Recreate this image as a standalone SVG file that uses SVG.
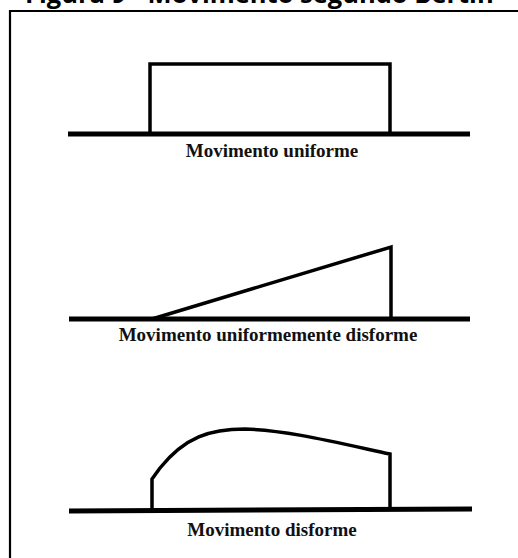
<svg xmlns="http://www.w3.org/2000/svg" width="518" height="558" viewBox="0 0 518 558">
<style>
.base{stroke:#000;stroke-width:5;fill:none;stroke-linecap:butt}
.shape{stroke:#000;stroke-width:3.5;fill:none;stroke-linejoin:miter}
.lbl{font-family:"Liberation Serif","Times New Roman",serif;font-weight:bold;font-size:19px;fill:#111;text-anchor:middle}
.title{font-family:"Open Sans","Liberation Sans",sans-serif;font-weight:bold;font-size:25.5px;fill:#000}
</style>
<rect width="518" height="558" fill="#fff"/>
<g id="title"><text class="title" x="25" y="3">Figura 9 - Movimento segundo Bertin</text></g>
<g id="frame"><path d="M10,558 L10,11 L518,11" stroke="#000" stroke-width="2.2" fill="none"/></g>
<g id="uniforme">
<line class="base" x1="68" y1="134" x2="470" y2="134"/>
<path class="shape" d="M150,134 L150,64 L390,64 L390,134"/>
<text class="lbl" x="272" y="157">Movimento uniforme</text>
</g>
<g id="uniformemente-disforme">
<line class="base" x1="69" y1="319" x2="470" y2="319"/>
<path class="shape" d="M152,319 L391,247 L391,319" stroke-width="4"/>
<text class="lbl" x="268" y="341">Movimento uniformemente disforme</text>
</g>
<g id="disforme">
<line class="base" x1="69" y1="511" x2="472" y2="509"/>
<path class="shape" d="M152,511 L152,479 L160,468 C185,437 210,429 245,429 C285,430 330,441 390,454 L390,510"/>
<text class="lbl" x="272" y="536">Movimento disforme</text>
</g>
</svg>
